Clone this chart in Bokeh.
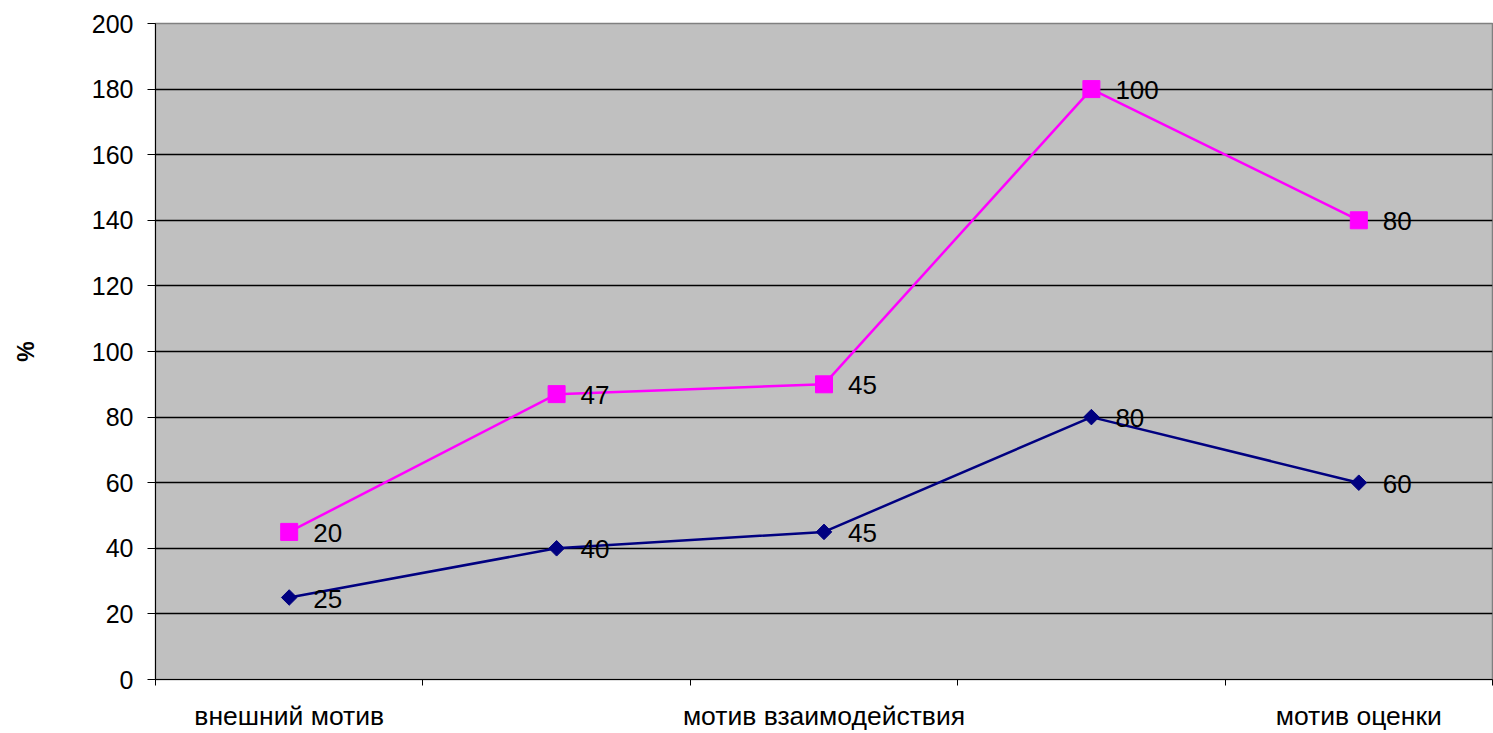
import numpy as np
from bokeh.plotting import figure
from bokeh.models import FixedTicker, ColumnDataSource, Range1d
from bokeh.core.properties import value
from bokeh.embed import file_html
from bokeh.resources import INLINE

# ---- data ----
category_labels = ["внешний мотив", "", "мотив взаимодействия", "", "мотив оценки"]
series_1 = [25, 40, 45, 80, 60]      # navy, diamonds
series_2 = [20, 47, 45, 100, 80]     # magenta, squares (stacked on series_1)
y_ticks = [0, 20, 40, 60, 80, 100, 120, 140, 160, 180, 200]
y_axis_title = "%"

x = list(range(1, len(category_labels) + 1))
stack_1 = np.array(series_1)
stack_2 = stack_1 + np.array(series_2)

FONT = "Liberation Sans"

p = figure(width=1493, height=733, output_backend="svg", toolbar_location=None,
           x_range=Range1d(0.5, len(x) + 0.5), y_range=Range1d(0, 200),
           min_border_left=155, min_border_top=23, min_border_right=1, min_border_bottom=53)

p.background_fill_color = "#C0C0C0"
p.border_fill_color = "white"
p.outline_line_color = "#808080"
p.outline_line_width = 1.5

# y axis
p.yaxis.ticker = FixedTicker(ticks=y_ticks, minor_ticks=[])
p.yaxis.axis_line_color = "black"
p.yaxis.major_tick_out = 8
p.yaxis.major_tick_in = 0
p.yaxis.major_tick_line_color = "black"
p.yaxis.major_label_standoff = 14
p.yaxis.major_label_text_font = FONT
p.yaxis.major_label_text_font_size = "25px"
p.yaxis.major_label_text_color = "black"
p.yaxis.axis_label = y_axis_title
p.yaxis.axis_label_text_font = FONT
p.yaxis.axis_label_text_font_size = "23px"
p.yaxis.axis_label_text_font_style = "bold"
p.yaxis.axis_label_text_color = "black"
p.yaxis.axis_label_standoff = 50

# x axis
labelled = [xi for xi, c in zip(x, category_labels) if c]
boundaries = [xi - 0.5 for xi in x] + [x[-1] + 0.5]
p.xaxis.ticker = FixedTicker(ticks=labelled, minor_ticks=boundaries)
p.xaxis.major_label_overrides = {xi: c for xi, c in zip(x, category_labels) if c}
p.xaxis.axis_line_color = "black"
p.xaxis.major_tick_out = 0
p.xaxis.major_tick_in = 0
p.xaxis.minor_tick_out = 6
p.xaxis.minor_tick_in = 0
p.xaxis.minor_tick_line_color = "black"
p.xaxis.major_label_standoff = 15
p.xaxis.major_label_text_font = FONT
p.xaxis.major_label_text_font_size = "26.5px"
p.xaxis.major_label_text_color = "black"

# grid
p.xgrid.visible = False
p.ygrid.ticker = FixedTicker(ticks=y_ticks[1:-1])
p.ygrid.grid_line_color = "black"
p.ygrid.grid_line_width = 1.3

src = ColumnDataSource(dict(x=x, y1=stack_1, y2=stack_2,
                            l1=[str(v) for v in series_1],
                            l2=[str(v) for v in series_2]))

# series 2 (magenta)
p.line("x", "y2", source=src, line_color="#FF00FF", line_width=2.5)
p.scatter("x", "y2", source=src, marker="square", size=17,
          fill_color="#FF00FF", line_color="#FF00FF")
# series 1 (navy)
p.line("x", "y1", source=src, line_color="#000080", line_width=2.5)
p.scatter("x", "y1", source=src, marker="square", angle=np.pi / 4, size=11,
          fill_color="#000080", line_color="#000080")

for col_y, col_l in (("y1", "l1"), ("y2", "l2")):
    p.text("x", col_y, text=col_l, source=src, x_offset=24, y_offset=1,
           text_font=value(FONT), text_font_size="26px", text_color="black",
           text_align="left", text_baseline="middle")

open("out.html", "w").write(file_html(p, INLINE))
